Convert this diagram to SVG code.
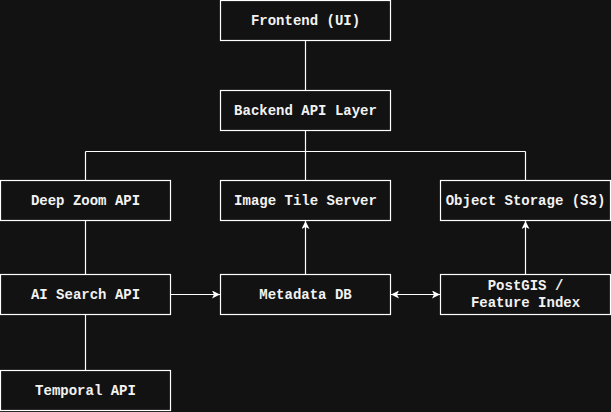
<svg xmlns="http://www.w3.org/2000/svg" width="611" height="412" viewBox="0 0 611 412">
<style>
.b{fill:#121212;stroke:#ffffff;stroke-width:1.2}
.t{fill:#f2f2f2;font-family:"Liberation Mono","DejaVu Sans Mono",monospace;font-weight:bold;font-size:14px;text-anchor:middle;dominant-baseline:central}
.c{fill:none;stroke:#ffffff;stroke-width:1.2}
</style>
<defs>
<marker id="a" viewBox="0 0 10 10" refX="10" refY="5" markerWidth="8" markerHeight="8" markerUnits="userSpaceOnUse" orient="auto-start-reverse"><path d="M0,0 L10,5 L0,10 L2.5,5 Z" fill="#ffffff"/></marker>
</defs>
<rect width="611" height="412" fill="#121212"/>
<g id="connectors">
<path class="c" d="M305.5,40 V90"/>
<path class="c" d="M305.5,130 V151.5 M85.5,151.5 H525.5 M85.5,151.5 V180 M305.5,151.5 V180 M525.5,151.5 V180"/>
<path class="c" d="M85.5,220 V274"/>
<path class="c" d="M85.5,314 V370"/>
<path class="c" d="M170,294.5 H220" marker-end="url(#a)"/>
<path class="c" d="M391,294.5 H440" marker-start="url(#a)" marker-end="url(#a)"/>
<path class="c" d="M305.5,274 V221" marker-end="url(#a)"/>
<path class="c" d="M525.5,274 V221" marker-end="url(#a)"/>
</g>
<g id="frontend"><rect class="b" x="220.5" y="0.5" width="170" height="40"/><text class="t" x="305.5" y="20.5">Frontend (UI)</text></g>
<g id="backend"><rect class="b" x="220.5" y="90.5" width="170" height="40"/><text class="t" x="305.5" y="110.5">Backend API Layer</text></g>
<g id="deepzoom"><rect class="b" x="0.5" y="180.5" width="170" height="40"/><text class="t" x="85.5" y="200.5">Deep Zoom API</text></g>
<g id="tileserver"><rect class="b" x="220.5" y="180.5" width="170" height="40"/><text class="t" x="305.5" y="200.5">Image Tile Server</text></g>
<g id="objectstorage"><rect class="b" x="440.5" y="180.5" width="170" height="40"/><text class="t" x="525.5" y="200.5">Object Storage (S3)</text></g>
<g id="aisearch"><rect class="b" x="0.5" y="274.5" width="170" height="40"/><text class="t" x="85.5" y="294.5">AI Search API</text></g>
<g id="metadata"><rect class="b" x="220.5" y="274.5" width="170" height="40"/><text class="t" x="305.5" y="294.5">Metadata DB</text></g>
<g id="postgis"><rect class="b" x="440.5" y="274.5" width="170" height="40"/><text class="t" x="525.5" y="285.5">PostGIS /</text><text class="t" x="525.5" y="302.5">Feature Index</text></g>
<g id="temporal"><rect class="b" x="0.5" y="370.5" width="170" height="40"/><text class="t" x="85.5" y="390.5">Temporal API</text></g>
</svg>
